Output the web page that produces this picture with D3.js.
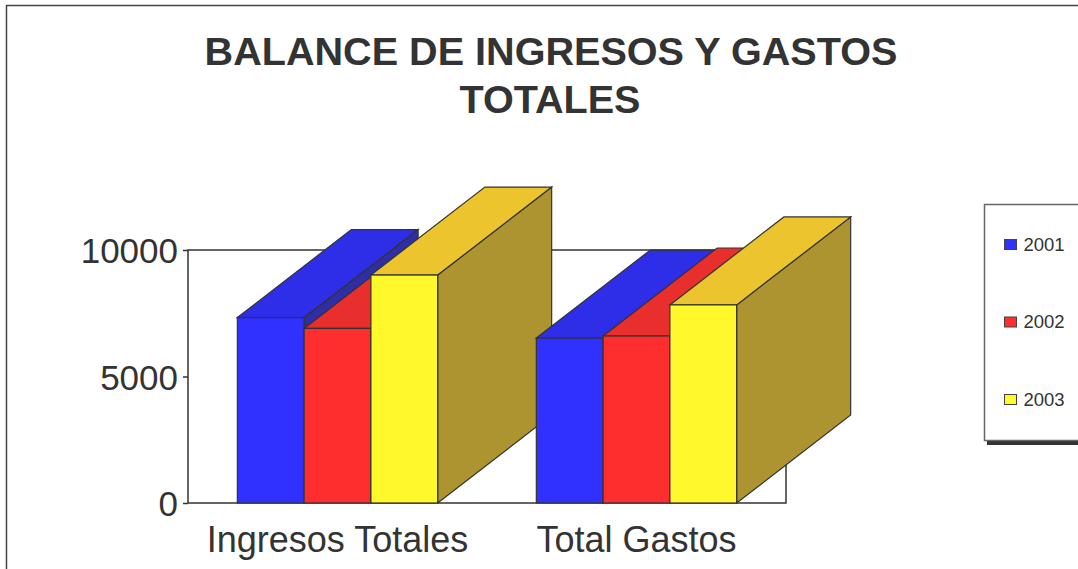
<!DOCTYPE html>
<html>
<head>
<meta charset="utf-8">
<script src="https://cdn.jsdelivr.net/npm/d3@7"></script>
<style>
  body { margin: 0; background: #fff; }
  text { font-family: "Liberation Sans", Arial, sans-serif; fill: #333; }
</style>
</head>
<body>
<div id="chart"></div>
<script>
// Balance de ingresos y gastos - 3D column chart

// Data
var categories = ["Ingresos Totales", "Total Gastos"];
var years = ["2001", "2002", "2003"];
var values2001 = [7330, 6520];
var values2002 = [6900, 6600];
var values2003 = [9010, 7830];
var yTicks = [0, 5000, 10000];

var seriesValues = [values2001, values2002, values2003];

// Colours per year: front, top, side
var fronts = ["#3030ff", "#ff2e2e", "#fff82a"];
var tops = ["#2e2ee8", "#e92e2e", "#ebc42e"];
var sides = ["#2e2ea8", "#b02a2a", "#ae9430"];

var width = 1078;
var height = 569;

// plot frame
var plotLeft = 188, plotRight = 786, plotTop = 250, plotBottom = 503;

// depth of the 3D bars
var depthX = 114;
var depthY = 88;

var svg = d3.select("#chart")
  .append("svg")
  .attr("width", width)
  .attr("height", height);

// outer border (runs past the right and bottom edges)
svg.append("rect")
  .attr("x", 6.5)
  .attr("y", 5.5)
  .attr("width", 1200)
  .attr("height", 700)
  .attr("fill", "none")
  .attr("stroke", "#444")
  .attr("stroke-width", 1.5);

// Title
var title = svg.append("text")
  .attr("text-anchor", "middle")
  .attr("font-size", 39.6)
  .attr("font-weight", "bold");
title.append("tspan").attr("x", 551).attr("y", 65).text("BALANCE DE INGRESOS Y GASTOS");
title.append("tspan").attr("x", 550).attr("y", 113).text("TOTALES");

// Scales
var x0 = d3.scaleBand()
  .domain(categories)
  .range([plotLeft, plotRight])
  .paddingInner(0.33)
  .paddingOuter(0.165);

var x1 = d3.scaleBand()
  .domain(years)
  .range([0, x0.bandwidth()]);

var yScale = d3.scaleLinear()
  .domain([0, 10000])
  .range([plotBottom, plotTop]);

// Frame
svg.append("rect")
  .attr("x", plotLeft)
  .attr("y", plotTop)
  .attr("width", plotRight - plotLeft)
  .attr("height", plotBottom - plotTop)
  .attr("fill", "none")
  .attr("stroke", "#333")
  .attr("stroke-width", 1.5);

// Y axis
var yAxis = d3.axisLeft(yScale)
  .tickValues(yTicks)
  .tickFormat(d3.format("d"))
  .tickSize(5)
  .tickPadding(5);

var yG = svg.append("g")
  .attr("class", "yAxis")
  .attr("transform", "translate(" + plotLeft + ",0)")
  .call(yAxis);
yG.select(".domain").remove();
yG.selectAll(".tick line").attr("stroke", "#333").attr("stroke-width", 1.5);
yG.selectAll(".tick text")
  .attr("font-size", 35)
  .attr("dy", "0.36em")
  .attr("fill", "#333")
  .style("font-family", "'Liberation Sans', Arial, sans-serif");

// Bars, painted left to right so nearer faces cover the ones behind
var bars = [];
categories.forEach(function(c, i) {
  years.forEach(function(yr, j) {
    bars.push({ cat: c, year: yr, j: j, value: seriesValues[j][i] });
  });
});

var barG = svg.append("g").attr("class", "bars");

bars.forEach(function(d) {
  var x = x0(d.cat) + x1(d.year);
  var w = x1.bandwidth();
  var yTop = yScale(d.value);
  var yBase = yScale(0);
  var g = barG.append("g");

  // right side
  g.append("polygon")
    .attr("points", [
      [x + w, yTop], [x + w + depthX, yTop - depthY],
      [x + w + depthX, yBase - depthY], [x + w, yBase]
    ].join(" "))
    .attr("fill", sides[d.j])
    .attr("stroke", "#333")
    .attr("stroke-width", 1.2);

  // top
  g.append("polygon")
    .attr("points", [
      [x, yTop], [x + depthX, yTop - depthY],
      [x + w + depthX, yTop - depthY], [x + w, yTop]
    ].join(" "))
    .attr("fill", tops[d.j])
    .attr("stroke", "#333")
    .attr("stroke-width", 1.2);

  // front
  g.append("rect")
    .attr("x", x)
    .attr("y", yTop)
    .attr("width", w)
    .attr("height", yBase - yTop)
    .attr("fill", fronts[d.j])
    .attr("stroke", "#333")
    .attr("stroke-width", 1.2);
});

// Category labels
svg.selectAll(".catLabel")
  .data(categories)
  .enter()
  .append("text")
  .attr("class", "catLabel")
  .attr("x", function(d) { return x0(d) + x0.bandwidth() / 2; })
  .attr("y", 552)
  .attr("text-anchor", "middle")
  .attr("font-size", 36)
  .text(function(d) { return d; });

// Legend
svg.append("rect")
  .attr("x", 987)
  .attr("y", 440)
  .attr("width", 120)
  .attr("height", 5)
  .attr("fill", "#333");

svg.append("rect")
  .attr("x", 984.5)
  .attr("y", 204.5)
  .attr("width", 120)
  .attr("height", 236)
  .attr("fill", "#fff")
  .attr("stroke", "#666")
  .attr("stroke-width", 1.5);

var legendRowY = d3.scalePoint()
  .domain(years)
  .range([244, 399]);

var legend = svg.selectAll(".legendItem")
  .data(years)
  .enter()
  .append("g")
  .attr("class", "legendItem")
  .attr("transform", function(d) { return "translate(1004," + legendRowY(d) + ")"; });

legend.append("rect")
  .attr("x", 0.5)
  .attr("y", -4.5)
  .attr("width", 12)
  .attr("height", 10)
  .attr("fill", function(d, i) { return fronts[i]; })
  .attr("stroke", "#444")
  .attr("stroke-width", 1);

legend.append("text")
  .attr("x", 19.5)
  .attr("y", 6.5)
  .attr("font-size", 18.5)
  .text(function(d) { return d; });
</script>
</body>
</html>
